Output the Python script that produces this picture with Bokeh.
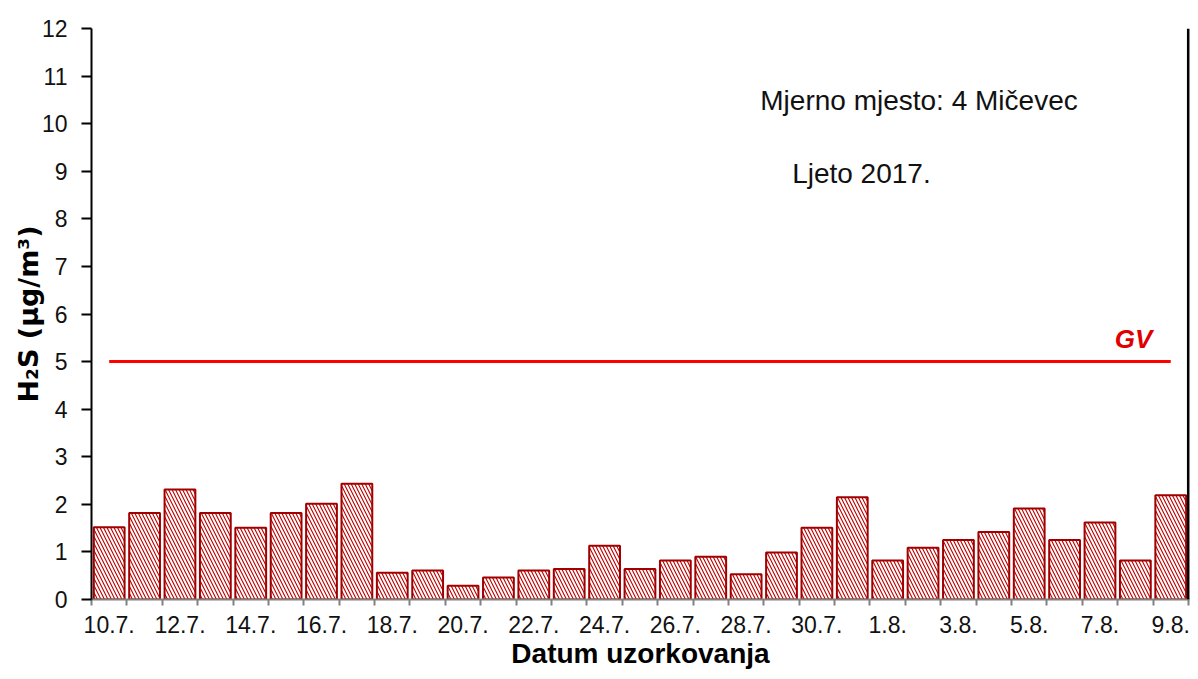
from bokeh.plotting import figure
from bokeh.models import Range1d, FixedTicker, Label, Span
from bokeh.embed import file_html
from bokeh.resources import INLINE

# ---- data ----
dates = ["10.7.", "11.7.", "12.7.", "13.7.", "14.7.", "15.7.", "16.7.", "17.7.",
         "18.7.", "19.7.", "20.7.", "21.7.", "22.7.", "23.7.", "24.7.", "25.7.",
         "26.7.", "27.7.", "28.7.", "29.7.", "30.7.", "31.7.", "1.8.", "2.8.",
         "3.8.", "4.8.", "5.8.", "6.8.", "7.8.", "8.8.", "9.8."]
h2s = [1.52, 1.82, 2.31, 1.82, 1.51, 1.82, 2.01, 2.43, 0.56, 0.61, 0.29,
       0.46, 0.61, 0.64, 1.13, 0.64, 0.82, 0.90, 0.53, 0.99, 1.51, 2.15,
       0.82, 1.09, 1.25, 1.42, 1.91, 1.25, 1.62, 0.82, 2.19]
tick_labels = dates[::2]
gv = 5
y_ticks = list(range(0, 13))

FONT = "Liberation Sans"

pos = list(range(1, len(dates) + 1))
n = len(dates)

p = figure(width=1190, height=671, output_backend="svg", toolbar_location=None,
           x_range=Range1d(0.5, n + 0.53), y_range=Range1d(0, 12),
           min_border_left=91, min_border_right=1, min_border_top=28,
           min_border_bottom=64)
p.outline_line_color = None
p.xgrid.visible = False
p.ygrid.visible = False
p.background_fill_color = "white"
p.border_fill_color = "white"

p.vbar(x=pos, top=h2s, bottom=0, width=0.87,
       fill_color="#C00000", line_color="#A00000", line_width=2,
       hatch_pattern="\\", hatch_color="white", hatch_weight=2, hatch_scale=7)

# GV limit line
p.line(x=[pos[0], pos[-1]], y=[gv, gv], line_color="#FF0000", line_width=3)
p.add_layout(Label(x=29.95, y=gv, y_offset=8, text="GV",
                   text_color="#E00000", text_font=FONT, text_font_style="bold italic",
                   text_font_size="26px", text_align="center", text_baseline="bottom"))

# right frame border
p.add_layout(Span(location=n + 0.5, dimension="height", line_color="black", line_width=3))

# annotations
p.add_layout(Label(x=19.4, y=10.49, text="Mjerno mjesto: 4 Mičevec", text_font=FONT,
                   text_font_size="28px", text_color="#111111", text_baseline="middle"))
p.add_layout(Label(x=20.3, y=8.95, text="Ljeto 2017.", text_font=FONT,
                   text_font_size="28px", text_color="#111111", text_baseline="middle"))

# x axis
xa = p.xaxis[0]
xa.ticker = FixedTicker(ticks=pos[::2], minor_ticks=[x - 0.5 for x in pos] + [n + 0.5])
xa.major_label_overrides = {x: lab for x, lab in zip(pos[::2], tick_labels)}
xa.major_tick_out = 0
xa.major_tick_in = 0
xa.minor_tick_out = 6
xa.minor_tick_in = 0
xa.minor_tick_line_color = "#808080"
xa.minor_tick_line_width = 2
xa.axis_line_color = "#808080"
xa.axis_line_width = 2
xa.major_label_text_font = FONT
xa.major_label_text_font_size = "23px"
xa.major_label_text_color = "#111111"
xa.major_label_standoff = 10
xa.axis_label = "Datum uzorkovanja"
xa.axis_label_text_font = FONT
xa.axis_label_text_font_style = "bold"
xa.axis_label_text_font_size = "28px"
xa.axis_label_text_color = "black"
xa.axis_label_standoff = 2

# y axis
ya = p.yaxis[0]
ya.ticker = FixedTicker(ticks=y_ticks)
ya.minor_tick_line_color = None
ya.major_tick_out = 10
ya.major_tick_in = 0
ya.major_tick_line_color = "black"
ya.major_tick_line_width = 2
ya.axis_line_color = "black"
ya.axis_line_width = 2
ya.major_label_text_font = FONT
ya.major_label_text_font_size = "23px"
ya.major_label_text_color = "#111111"
ya.major_label_standoff = 14
ya.axis_label = "H₂S (µg/m³)"
ya.axis_label_text_font = "DejaVu Sans"
ya.axis_label_text_font_style = "bold"
ya.axis_label_text_font_size = "27px"
ya.axis_label_text_color = "black"
ya.axis_label_standoff = -5

open("out.html", "w").write(file_html(p, INLINE))
